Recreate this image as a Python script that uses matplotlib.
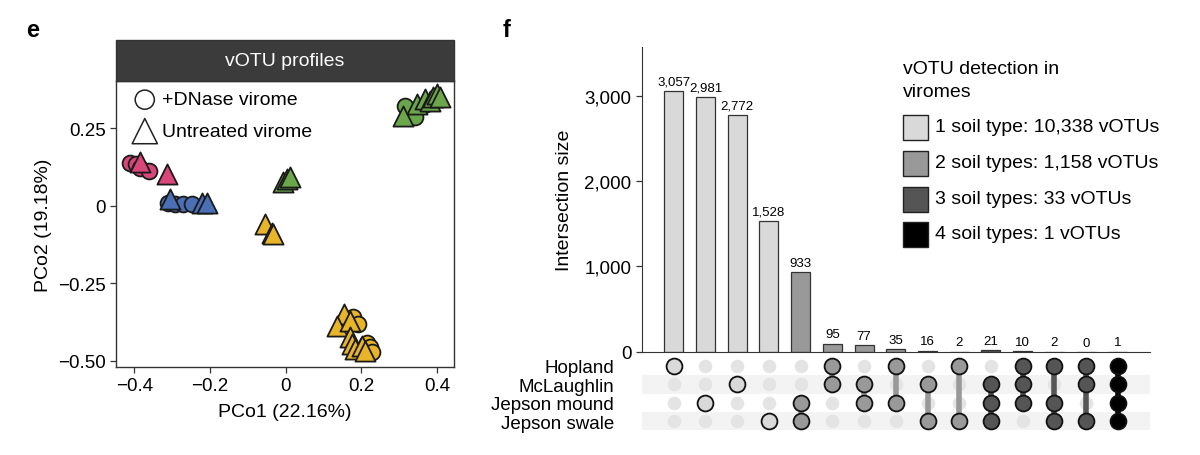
import matplotlib
matplotlib.use('Agg')
import matplotlib.pyplot as plt
from matplotlib.patches import Rectangle
import numpy as np

plt.rcParams['font.family'] = ['Liberation Sans', 'DejaVu Sans']

# ---- panel e: PCoA of vOTU profiles ----
# +DNase virome (circles)
circ_x = {'pink': [-0.411, -0.395, -0.384, -0.362],
          'blue': [-0.310, -0.292, -0.270, -0.248],
          'green': [0.316, 0.342, 0.386, 0.372],
          'yellow': [0.179, 0.192, 0.215, 0.223, 0.228]}
circ_y = {'pink': [0.140, 0.135, 0.124, 0.113],
          'blue': [0.011, 0.006, 0.006, 0.006],
          'green': [0.323, 0.286, 0.334, 0.330],
          'yellow': [-0.360, -0.382, -0.441, -0.457, -0.473]}
# untreated virome (triangles)
tri_x = {'pink': [-0.384, -0.314],
         'blue': [-0.305, -0.221, -0.208],
         'green': [0.311, 0.347, 0.369, 0.382, 0.390, 0.399, 0.408,
                   -0.006, 0.003, 0.012],
         'yellow': [0.153, 0.135, 0.170, 0.170, 0.175, 0.184, 0.201, 0.210,
                    -0.054, -0.036, -0.033]}
tri_y = {'pink': [0.141, 0.103],
         'blue': [0.022, 0.011, 0.008],
         'green': [0.291, 0.329, 0.345, 0.339, 0.350, 0.361, 0.350,
                   0.076, 0.086, 0.092],
         'yellow': [-0.349, -0.387, -0.371, -0.424, -0.446, -0.462, -0.452, -0.468,
                    -0.059, -0.086, -0.092]}
site_colors = {'pink': '#d9477a', 'blue': '#4a6fb5', 'green': '#6ca64a', 'yellow': '#e8b42a'}

pc_xticks = [-0.4, -0.2, 0, 0.2, 0.4]
pc_xlabels = ['\u22120.4', '\u22120.2', '0', '0.2', '0.4']
pc_yticks = [-0.5, -0.25, 0, 0.25]
pc_ylabels = ['\u22120.50', '\u22120.25', '0', '0.25']

# ---- panel f: upset plot ----
sets = ['Hopland', 'McLaughlin', 'Jepson mound', 'Jepson swale']
inter_sizes = [3057, 2981, 2772, 1528, 933, 95, 77, 35, 16, 2, 21, 10, 2, 0, 1]
inter_labels = ['3,057', '2,981', '2,772', '1,528', '933', '95', '77', '35', '16',
                '2', '21', '10', '2', '0', '1']
# membership: indices into sets
inter_members = [[0], [2], [1], [3], [2, 3], [0, 1], [1, 2], [0, 2], [1, 3], [0, 3],
                 [1, 2, 3], [0, 1, 2], [0, 2, 3], [0, 1, 3], [0, 1, 2, 3]]
degree_colors = {1: '#d9d9d9', 2: '#999999', 3: '#555555', 4: '#000000'}
legend_labels = ['1 soil type: 10,338 vOTUs', '2 soil types: 1,158 vOTUs',
                 '3 soil types: 33 vOTUs', '4 soil types: 1 vOTUs']
bar_yticks = [0, 1000, 2000, 3000]
bar_ylabels = ['0', '1,000', '2,000', '3,000']

fig = plt.figure(figsize=(12, 4.56), dpi=100)

# ---------------- panel e ----------------
ax = fig.add_axes([0.0967, 0.193, 0.2817, 0.627])
for c in ['pink', 'blue', 'green', 'yellow']:
    ax.scatter(circ_x[c], circ_y[c], s=130, marker='o', color=site_colors[c],
               edgecolor='#1a1a1a', linewidth=1.3, zorder=3)
for c in ['pink', 'blue', 'green', 'yellow']:
    ax.scatter(tri_x[c], tri_y[c], s=210, marker='^', color=site_colors[c],
               edgecolor='#1a1a1a', linewidth=1.3, zorder=4)
ax.set_xlim(-0.448, 0.445)
ax.set_ylim(-0.52, 0.403)
ax.set_xticks(pc_xticks)
ax.set_xticklabels(pc_xlabels)
ax.set_yticks(pc_yticks)
ax.set_yticklabels(pc_ylabels)
ax.tick_params(labelsize=13.5, length=4, width=0.9, color='#333333')
for sp in ax.spines.values():
    sp.set_color('#333333')
    sp.set_linewidth(1.0)
ax.set_xlabel('PCo1 (22.16%)', fontsize=14, labelpad=6)
ax.set_ylabel('PCo2 (19.18%)', fontsize=14, labelpad=4)

# title band
ax.add_patch(Rectangle((0, 1), 1, 0.144, transform=ax.transAxes, clip_on=False,
                       facecolor='#3b3b3b', edgecolor='#333333', lw=1.0))
ax.text(0.5, 1.072, 'vOTU profiles', transform=ax.transAxes, ha='center', va='center',
        color='white', fontsize=14)

# marker legend
ax.scatter([0.085], [0.935], s=190, marker='o', facecolor='none', edgecolor='#222222',
           linewidth=1.1, transform=ax.transAxes, clip_on=False)
ax.text(0.135, 0.935, '+DNase virome', transform=ax.transAxes, va='center', fontsize=14)
ax.scatter([0.085], [0.825], s=330, marker='^', facecolor='none', edgecolor='#222222',
           linewidth=1.1, transform=ax.transAxes, clip_on=False)
ax.text(0.135, 0.825, 'Untreated virome', transform=ax.transAxes, va='center', fontsize=14)

fig.text(0.022, 0.934, 'e', fontsize=17, fontweight='bold', va='center')
fig.text(0.419, 0.934, 'f', fontsize=17, fontweight='bold', va='center')

# ---------------- panel f: bars ----------------
n = len(inter_sizes)
xs = np.arange(n)
bar_cols = [degree_colors[len(m)] for m in inter_members]
axb = fig.add_axes([0.535, 0.226, 0.423, 0.669])
axb.bar(xs, inter_sizes, width=0.6, color=bar_cols, edgecolor='#333333', linewidth=0.9)
for x, v, lab in zip(xs, inter_sizes, inter_labels):
    axb.text(x, v + 40, lab, ha='center', va='bottom', fontsize=9.5)
axb.set_xlim(-1, 15)
axb.set_ylim(0, 3570)
axb.set_xticks([])
axb.set_yticks(bar_yticks)
axb.set_yticklabels(bar_ylabels)
axb.tick_params(axis='y', labelsize=13.5, length=4, width=0.9, color='#333333')
axb.spines['top'].set_visible(False)
axb.spines['right'].set_visible(False)
axb.spines['left'].set_color('#333333')
axb.spines['bottom'].set_color('#333333')
axb.set_ylabel('Intersection size', fontsize=14, labelpad=8)

# legend
fig.text(0.7525, 0.822, 'vOTU detection in\nviromes', fontsize=14, va='center',
         linespacing=1.45)
leg_y = [128, 164, 200, 235]
for i, (yy, lab) in enumerate(zip(leg_y, legend_labels)):
    yf = 1 - yy / 456
    fig.patches.append(Rectangle((0.7525, yf - 12.5 / 456), 25 / 1200, 25 / 456,
                                 transform=fig.transFigure, facecolor=degree_colors[i + 1],
                                 edgecolor='#222222', lw=1.0))
    fig.text(0.779, yf, lab, fontsize=14, va='center')

# ---------------- panel f: matrix ----------------
axm = fig.add_axes([0.535, 0.054, 0.423, 0.1615])
axm.set_xlim(-1, 15)
axm.set_ylim(3.5, -0.5)
for r in [1, 3]:
    axm.axhspan(r - 0.5, r + 0.5, color='#f3f3f3', zorder=0, lw=0)
for x, mem in zip(xs, inter_members):
    col = degree_colors[len(mem)]
    inactive = [r for r in range(len(sets)) if r not in mem]
    axm.scatter([x] * len(inactive), inactive, s=95, color='#e4e4e4', lw=0, zorder=1)
    if len(mem) > 1:
        axm.plot([x, x], [min(mem), max(mem)], color=col, lw=4, zorder=2,
                 solid_capstyle='butt')
    axm.scatter([x] * len(mem), mem, s=130, color=col, edgecolor='#111111',
                linewidth=1.3, zorder=3)
axm.set_xticks([])
axm.set_yticks(range(len(sets)))
axm.set_yticklabels(sets)
axm.tick_params(axis='y', length=0, pad=20, labelsize=13.5)
for sp in axm.spines.values():
    sp.set_visible(False)

fig.savefig('out.png', dpi=100)
